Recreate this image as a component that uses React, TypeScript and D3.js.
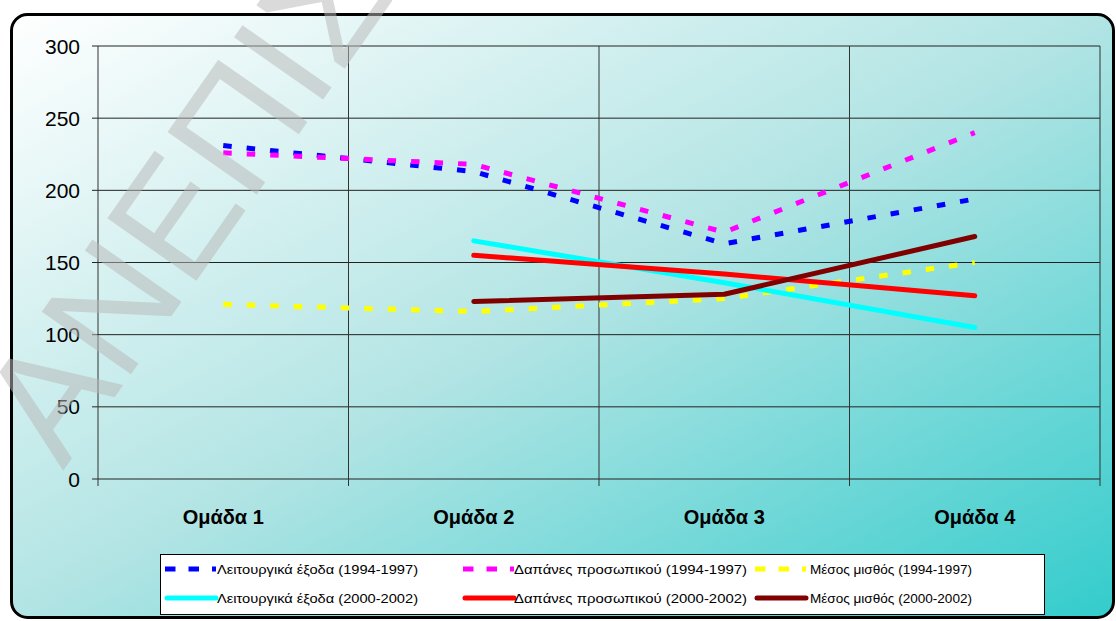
import React from 'react';
import * as d3 from 'd3';

const categories = ['Ομάδα 1', 'Ομάδα 2', 'Ομάδα 3', 'Ομάδα 4'];
const yTicks = [0, 50, 100, 150, 200, 250, 300];

const opEx9497: (number | null)[] = [231, 213, 163, 194];
const staff9497: (number | null)[] = [226, 218, 171, 240];
const salary9497: (number | null)[] = [121, 116, 125, 150];
const opEx0002: (number | null)[] = [null, 165, 136, 105];
const staff0002: (number | null)[] = [null, 155, 142, 127];
const salary0002: (number | null)[] = [null, 123, 128, 168];

const seriesNames = [
  'Λειτουργικά έξοδα (1994-1997)',
  'Δαπάνες προσωπικού (1994-1997)',
  'Μέσος μισθός (1994-1997)',
  'Λειτουργικά έξοδα (2000-2002)',
  'Δαπάνες προσωπικού (2000-2002)',
  'Μέσος μισθός (2000-2002)',
];

const series = [
  { name: seriesNames[0], values: opEx9497, color: '#0000ff', dashed: true },
  { name: seriesNames[1], values: staff9497, color: '#ff00ff', dashed: true },
  { name: seriesNames[2], values: salary9497, color: '#ffff00', dashed: true },
  { name: seriesNames[3], values: opEx0002, color: '#00ffff', dashed: false },
  { name: seriesNames[4], values: staff0002, color: '#ff0000', dashed: false },
  { name: seriesNames[5], values: salary0002, color: '#800000', dashed: false },
];

const watermark = 'ΑΝΕΠΙΣΗΜΟ';

export default function App() {
  const W = 1116, H = 621;
  const left = 98, right = 1100, top = 46, bottom = 479;
  const x = d3.scaleBand<string>().domain(categories).range([left, right]).padding(0);
  const y = d3.scaleLinear().domain([0, 300]).range([bottom, top]);
  const cx = (c: string) => (x(c) as number) + x.bandwidth() / 2;

  const line = d3
    .line<{ c: string; v: number | null }>()
    .defined((d) => d.v != null)
    .x((d) => cx(d.c))
    .y((d) => y(d.v as number));

  const font = 'Arial, "Liberation Sans", sans-serif';
  const legCols = [165, 463, 755];
  const legTextX = [217, 514, 810];
  const legTextW = [201, 233, 162];
  const legRows = [569, 598];

  return (
    <svg width={W} height={H} style={{ position: 'fixed', left: 0, top: 0 }} fontFamily={font}>
      <defs>
        <linearGradient id="bg" x1="0" y1="0" x2="1" y2="1">
          <stop offset="0" stopColor="#ffffff" />
          <stop offset="0.5" stopColor="#b2e4e4" />
          <stop offset="1" stopColor="#33cccc" />
        </linearGradient>
      </defs>
      <rect x={0} y={0} width={W} height={H} fill="#ffffff" />
      <rect x={11.5} y={14.5} width={1102} height={603} rx={16} ry={16} fill="url(#bg)" stroke="#000" strokeWidth={3} />

      {/* horizontal gridlines */}
      {yTicks.map((t) => (
        <line key={'h' + t} x1={left - 6} x2={right} y1={y(t)} y2={y(t)} stroke="#222" strokeWidth={1} />
      ))}
      {/* vertical gridlines / category ticks */}
      {d3.range(categories.length + 1).map((i) => {
        const xx = left + i * x.bandwidth();
        return <line key={'v' + i} x1={xx} x2={xx} y1={top} y2={bottom + 7} stroke="#333" strokeWidth={1} />;
      })}

      {/* y tick labels */}
      {yTicks.map((t) => (
        <text key={'yl' + t} x={80} y={y(t)} dy="0.36em" textAnchor="end" fontSize={21} fill="#000">
          {t}
        </text>
      ))}

      {/* category labels */}
      {categories.map((c) => (
        <text key={c} x={cx(c)} y={524} textAnchor="middle" fontSize={20} fontWeight="bold" fill="#000">
          {c}
        </text>
      ))}

      {/* series lines */}
      {series.map((s) => (
        <path
          key={s.name}
          d={line(categories.map((c, i) => ({ c, v: s.values[i] }))) || ''}
          fill="none"
          stroke={s.color}
          strokeWidth={5}
          strokeDasharray={s.dashed ? '8.5 15' : undefined}
          strokeLinejoin="round"
          strokeLinecap={s.dashed ? 'butt' : 'round'}
        />
      ))}

      {/* legend */}
      <rect x={160.5} y={554.5} width={884} height={60} fill="#ffffff" stroke="#000" strokeWidth={1} />
      {series.map((s, i) => {
        const col = i % 3, row = Math.floor(i / 3);
        const sx = legCols[col], sy = legRows[row];
        return (
          <g key={'lg' + i}>
            <line
              x1={sx + (s.dashed ? 0 : 2)}
              x2={sx + 51}
              y1={sy}
              y2={sy}
              stroke={s.color}
              strokeWidth={5}
              strokeDasharray={s.dashed ? '10.5 13' : undefined}
              strokeLinecap={s.dashed ? 'butt' : 'round'}
            />
            <text
              x={legTextX[col]}
              y={sy}
              dy="0.35em"
              fontSize={13.5}
              fill="#000"
              textLength={legTextW[col]}
              lengthAdjust="spacingAndGlyphs"
            >
              {s.name}
            </text>
          </g>
        );
      })}

      {/* watermark */}
      <text
        transform="translate(63,471) rotate(-55)"
        fontSize={158}
        fill="#b9b9b9"
        fillOpacity={0.52}
        fontFamily={font}
      >
        {watermark}
      </text>
    </svg>
  );
}
